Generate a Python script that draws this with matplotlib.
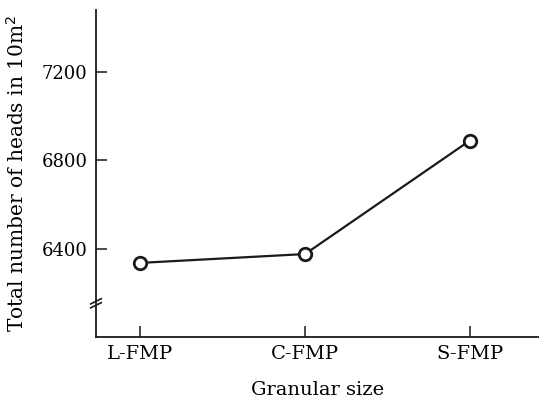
import matplotlib.pyplot as plt

# Data
categories = ["L-FMP", "C-FMP", "S-FMP"]
heads = [6337, 6377, 6890]
ytick_values = [6400, 6800, 7200]

plt.rcParams['font.family'] = ['DejaVu Serif']

fig = plt.figure(figsize=(5.39, 4.05), dpi=100)
ax = fig.add_axes([0.178, 0.168, 0.822, 0.807])

x = list(range(len(categories)))
ax.plot(x, heads, color="#1a1a1a", lw=1.6, marker="o", ms=9,
        mfc="white", mec="#1a1a1a", mew=2.0, zorder=3)

ax.set_xlim(-0.27, 2.42)
ax.set_ylim(6002, 7480)
ax.set_xticks(x)
ax.set_xticklabels(categories, fontsize=14)
ax.set_yticks(ytick_values)
ax.set_yticklabels([str(v) for v in ytick_values], fontsize=13)
ax.tick_params(direction="in", length=8, width=1.1, color="#1a1a1a", pad=6)

for side in ("top", "right"):
    ax.spines[side].set_visible(False)
for side in ("left", "bottom"):
    ax.spines[side].set_linewidth(1.3)
    ax.spines[side].set_color("#1a1a1a")

# axis break marks on the y axis
for dy in (-0.006, 0.006):
    ax.plot([-0.012, 0.012], [0.103 + dy - 0.008, 0.103 + dy + 0.008],
            transform=ax.transAxes, color="#1a1a1a", lw=1.2, clip_on=False)

ax.set_xlabel("Granular size", fontsize=14, labelpad=13)
ax.set_ylabel("Total number of heads in 10m$^2$", fontsize=14.5, labelpad=10)

fig.savefig("out.png", dpi=100)
